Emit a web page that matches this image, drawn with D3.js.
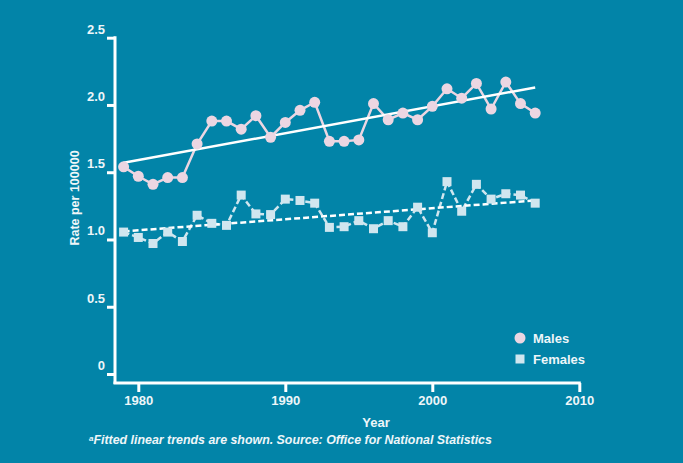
<!DOCTYPE html>
<html>
<head>
<meta charset="utf-8">
<script src="https://cdn.jsdelivr.net/npm/d3@7"></script>
<style>
  html, body { margin: 0; padding: 0; background: #0284a8; }
  svg { display: block; font-family: "Liberation Sans", Arial, sans-serif; }
  .tick text { fill: #eef6f9; font-size: 13px; font-weight: bold; }
</style>
</head>
<body>
<div class="chart"></div>
<script>
var years = [1979, 1980, 1981, 1982, 1983, 1984, 1985, 1986, 1987, 1988, 1989, 1990, 1991, 1992, 1993,
  1994, 1995, 1996, 1997, 1998, 1999, 2000, 2001, 2002, 2003, 2004, 2005, 2006, 2007];

var males = [1.54, 1.47, 1.41, 1.46, 1.46, 1.71, 1.88, 1.88, 1.82, 1.92, 1.76, 1.87, 1.96, 2.02, 1.73,
  1.73, 1.74, 2.01, 1.89, 1.94, 1.89, 1.99, 2.12, 2.05, 2.16, 1.97, 2.17, 2.01, 1.94];

var females = [1.055, 1.015, 0.97, 1.055, 0.985, 1.18, 1.12, 1.105, 1.33, 1.19, 1.185, 1.30, 1.29, 1.27, 1.09,
  1.095, 1.14, 1.08, 1.14, 1.095, 1.24, 1.05, 1.43, 1.21, 1.41, 1.30, 1.34, 1.33, 1.27];

// fitted trend end points (1979 and 2007)
var trendYears = [1979, 2007];
var maleTrend = [1.57, 2.13];
var femaleTrend = [1.06, 1.29];

var yTicks = [0, 0.5, 1.0, 1.5, 2.0, 2.5];
var xTicks = [1980, 1990, 2000, 2010];

var width = 683, height = 463;

var svg = d3.select(".chart").append("svg")
  .attr("width", width)
  .attr("height", height);

var x = d3.scaleLinear().domain([1980, 2010]).range([138.3, 579.3]);
var y = d3.scaleLinear().domain([0, 2.5]).range([374, 37.7]);

var axisColor = "#ffffff";

// y axis
var yAxis = svg.append("g")
  .attr("transform", "translate(115,0)")
  .call(d3.axisLeft(y).tickValues(yTicks).tickSize(8).tickSizeOuter(0)
    .tickFormat(function(d) { return d === 0 ? "0" : d3.format(".1f")(d); }));
yAxis.select(".domain").remove();
yAxis.selectAll(".tick line").attr("stroke", axisColor).attr("stroke-width", 3);
yAxis.selectAll(".tick text").attr("x", -10).attr("dy", "-0.35em");

svg.append("line")
  .attr("x1", 115).attr("x2", 115)
  .attr("y1", y(2.5) - 1.5).attr("y2", 384)
  .attr("stroke", axisColor).attr("stroke-width", 3);

// x axis
var xAxis = svg.append("g")
  .attr("transform", "translate(0,383)")
  .call(d3.axisBottom(x).tickValues(xTicks).tickSize(9).tickSizeOuter(0).tickFormat(d3.format("d")));
xAxis.select(".domain").remove();
xAxis.selectAll(".tick line").attr("stroke", axisColor).attr("stroke-width", 3);
xAxis.selectAll(".tick text").attr("y", 13);

svg.append("line")
  .attr("x1", 113.5).attr("x2", x(2010) + 1.5)
  .attr("y1", 383).attr("y2", 383)
  .attr("stroke", axisColor).attr("stroke-width", 3);

// axis titles
svg.append("text")
  .attr("x", 376).attr("y", 427)
  .attr("text-anchor", "middle")
  .attr("fill", "#eef6f9")
  .style("font-size", "13px").style("font-weight", "bold")
  .text("Year");

svg.append("text")
  .attr("transform", "translate(79,198) rotate(-90)")
  .attr("text-anchor", "middle")
  .attr("fill", "#eef6f9")
  .style("font-size", "12.5px").style("font-weight", "bold")
  .text("Rate per 100000");

// footnote
var note = svg.append("text")
  .attr("x", 89).attr("y", 444)
  .attr("fill", "#eef6f9")
  .style("font-size", "12.4px").style("font-weight", "bold").style("font-style", "italic");
note.append("tspan").style("font-size", "8px").attr("dy", -3).text("a");
note.append("tspan").attr("dy", 3).text("Fitted linear trends are shown. Source: Office for National Statistics");

var maleColor = "#ecd6e2", femaleColor = "#d0e6ef";

var line = d3.line()
  .x(function(d) { return x(d[0]); })
  .y(function(d) { return y(d[1]); });

var maleData = d3.zip(years, males);
var femaleData = d3.zip(years, females);

// data lines
svg.append("path")
  .datum(maleData)
  .attr("d", line)
  .attr("fill", "none")
  .attr("stroke", maleColor)
  .attr("stroke-width", 2.5);

svg.append("path")
  .datum(femaleData)
  .attr("d", line)
  .attr("fill", "none")
  .attr("stroke", femaleColor)
  .attr("stroke-width", 2.5)
  .attr("stroke-dasharray", "6,3");

// trend lines
svg.append("path")
  .datum(d3.zip(trendYears, maleTrend))
  .attr("d", line)
  .attr("fill", "none")
  .attr("stroke", "#ffffff")
  .attr("stroke-width", 2.5);

svg.append("path")
  .datum(d3.zip(trendYears, femaleTrend))
  .attr("d", line)
  .attr("fill", "none")
  .attr("stroke", "#ffffff")
  .attr("stroke-width", 2.5)
  .attr("stroke-dasharray", "6,3");

// markers
svg.append("g").selectAll("circle")
  .data(maleData)
  .enter().append("circle")
    .attr("cx", function(d) { return x(d[0]); })
    .attr("cy", function(d) { return y(d[1]); })
    .attr("r", 5.5)
    .attr("fill", maleColor);

svg.append("g").selectAll("rect")
  .data(femaleData)
  .enter().append("rect")
    .attr("x", function(d) { return x(d[0]) - 4.5; })
    .attr("y", function(d) { return y(d[1]) - 4.5; })
    .attr("width", 9)
    .attr("height", 9)
    .attr("fill", femaleColor);

// legend
var legend = svg.append("g").attr("transform", "translate(520,338)");
legend.append("circle").attr("cx", 0).attr("cy", 0).attr("r", 5.5).attr("fill", maleColor);
legend.append("rect").attr("x", -4.5).attr("y", 16.5).attr("width", 9).attr("height", 9).attr("fill", femaleColor);
legend.append("text").attr("x", 13).attr("y", 0).attr("dy", "0.35em")
  .attr("fill", "#eef6f9").style("font-size", "13px").style("font-weight", "bold").text("Males");
legend.append("text").attr("x", 13).attr("y", 21).attr("dy", "0.35em")
  .attr("fill", "#eef6f9").style("font-size", "13px").style("font-weight", "bold").text("Females");
</script>
</body>
</html>
